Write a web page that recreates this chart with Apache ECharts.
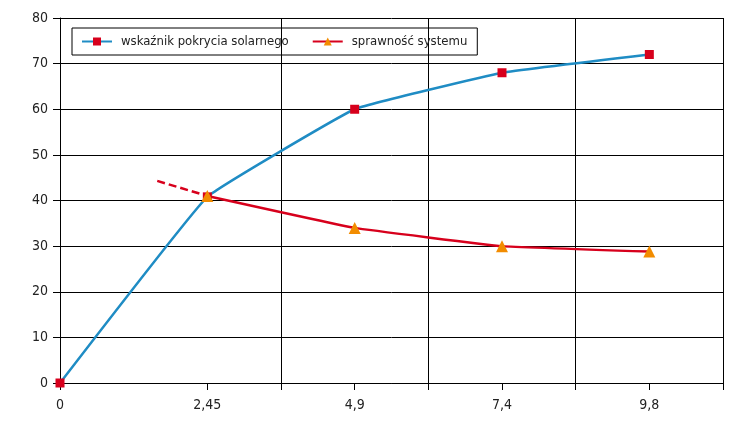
<!DOCTYPE html>
<html>
<head>
<meta charset="utf-8">
<script src="https://cdn.jsdelivr.net/npm/echarts@6/dist/echarts.min.js"></script>
<style>
	html, body { margin: 0; padding: 0; background: #fff; }
	#main { width: 748px; height: 425px; }
</style>
</head>
<body>
<div id="main"></div>
<script>
// dane
const xLabels = ['0', '2,45', '4,9', '7,4', '9,8']
const coverage = [0, 40.8, 60, 68, 72] // wskaźnik pokrycia solarnego
const efficiency = [null, 41, 34, 30, 28.8] // sprawność systemu
const efficiencyLead = [[0.66, 44.3], [1, 41]] // przerywany odcinek
const yTicks = [0, 80, 10] // min, max, krok
const xTickValues = [0, 1, 1.5, 2, 2.5, 3, 3.5, 4, 4.5]

const font = "'Liberation Sans Narrow', 'Arial Narrow', 'DejaVu Sans Condensed', sans-serif"
const blue = '#1f8cc4'
const red = '#d7001c'
const orange = '#f28c00'

const toPoints = (arr) => arr.map((v, i) => [i, v]).filter((p) => p[1] !== null)

// linie siatki pionowe tylko między kategoriami (1.5, 2.5, 3.5, 4.5) - kolory idą po xTickValues
const gridColors = xTickValues.map((v) => (v > 1 && !Number.isInteger(v) ? '#000' : 'transparent'))

let option = {
	animation: false,
	textStyle: { fontFamily: font },
	legend: {
		left: 72,
		top: 28,
		data: ['wskaźnik pokrycia solarnego', 'sprawność systemu'],
		borderColor: '#000',
		borderWidth: 1,
		borderRadius: 0,
		padding: [7, 10, 7, 9],
		itemWidth: 30,
		itemHeight: 10,
		itemGap: 23,
		textStyle: { fontFamily: font, fontSize: 13, color: '#222', padding: [0, 0, 0, 4] }
	},
	grid: { left: 60, right: 25, top: 18, bottom: 42 },
	xAxis: {
		type: 'value',
		min: 0,
		max: 4.5,
		interval: 0.5,
		axisLine: { show: true, lineStyle: { color: '#000', width: 1 } },
		axisTick: { show: true, length: 7, customValues: xTickValues, lineStyle: { color: '#000' } },
		axisLabel: {
			margin: 15,
			fontFamily: font,
			fontSize: 14,
			color: '#222',
			formatter: (v) => (Number.isInteger(v) ? xLabels[v] : '')
		},
		splitLine: { show: true, lineStyle: { color: gridColors, width: 1 } }
	},
	yAxis: {
		type: 'value',
		min: yTicks[0],
		max: yTicks[1],
		interval: yTicks[2],
		axisLine: { show: true, lineStyle: { color: '#000', width: 1 } },
		axisTick: { show: true, length: 7, lineStyle: { color: '#000' } },
		axisLabel: { margin: 12, fontFamily: font, fontSize: 14, color: '#222' },
		splitLine: { show: true, lineStyle: { color: '#000', width: 1 } }
	},
	series: [
		{
			name: 'wskaźnik pokrycia solarnego',
			type: 'line',
			data: toPoints(coverage),
			smooth: 0.08,
			symbol: 'rect',
			symbolSize: 9,
			lineStyle: { color: blue, width: 2.5 },
			itemStyle: { color: red }
		},
		{
			name: 'sprawność-lead',
			type: 'line',
			data: efficiencyLead,
			symbol: 'none',
			lineStyle: { color: red, width: 2.5, type: [8, 4] },
			z: 1
		},
		{
			name: 'sprawność systemu',
			type: 'line',
			data: toPoints(efficiency),
			smooth: 0.08,
			symbol: 'triangle',
			symbolSize: 12,
			lineStyle: { color: red, width: 2.5 },
			itemStyle: { color: orange }
		}
	]
}

let myChart = echarts.init(document.getElementById('main'))
myChart.setOption(option)
</script>
</body>
</html>
